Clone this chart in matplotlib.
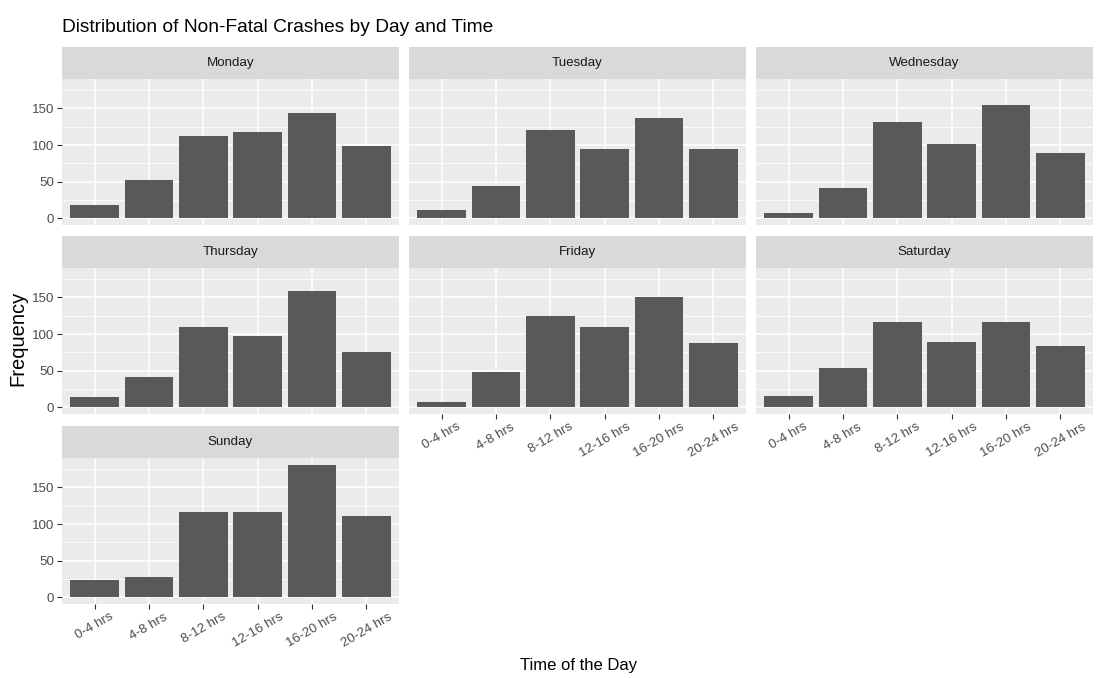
import matplotlib
matplotlib.use('Agg')
import matplotlib.pyplot as plt
from matplotlib.ticker import FixedLocator

plt.rcParams['font.family'] = ['Liberation Sans', 'DejaVu Sans']

days = ['Monday', 'Tuesday', 'Wednesday', 'Thursday', 'Friday', 'Saturday', 'Sunday']
time_slots = ['0-4 hrs', '4-8 hrs', '8-12 hrs', '12-16 hrs', '16-20 hrs', '20-24 hrs']
monday = [18, 52, 113, 118, 144, 99]
tuesday = [12, 44, 121, 95, 137, 95]
wednesday = [7, 41, 132, 102, 155, 89]
thursday = [14, 41, 109, 98, 159, 76]
friday = [7, 48, 125, 109, 150, 88]
saturday = [15, 54, 117, 89, 117, 84]
sunday = [23, 28, 116, 116, 181, 111]
series = [monday, tuesday, wednesday, thursday, friday, saturday, sunday]
y_ticks = [0, 50, 100, 150]
y_minor = [25, 75, 125, 175]

W, H = 1096, 678
fig = plt.figure(figsize=(W / 100, H / 100), dpi=100)
fig.patch.set_facecolor('white')

col_x = [62, 409, 756]
panel_w = 337
row_top = [47, 236, 426]
strip_h = 32
plot_h = 146

ymax = max(max(s) for s in series)
pad = 0.05 * ymax
bottom_of_col = {6, 4, 5}

for i, (day, vals) in enumerate(zip(days, series)):
    r, c = divmod(i, 3)
    x0 = col_x[c]
    top = row_top[r]
    sax = fig.add_axes([x0 / W, 1 - (top + strip_h) / H, panel_w / W, strip_h / H])
    sax.set_facecolor('#D9D9D9')
    sax.set_xticks([]); sax.set_yticks([])
    for sp in sax.spines.values():
        sp.set_visible(False)
    sax.text(0.5, 0.5, day, ha='center', va='center', fontsize=9.6, color='#1A1A1A',
             transform=sax.transAxes)

    ax = fig.add_axes([x0 / W, 1 - (top + strip_h + plot_h) / H, panel_w / W, plot_h / H])
    ax.set_facecolor('#EBEBEB')
    ax.bar(range(len(time_slots)), vals, width=0.9, color='#595959', zorder=3)
    ax.set_xlim(-0.6, len(time_slots) - 0.4)
    ax.set_ylim(-pad, ymax + pad)
    ax.yaxis.set_major_locator(FixedLocator(y_ticks))
    ax.yaxis.set_minor_locator(FixedLocator(y_minor))
    ax.set_xticks(range(len(time_slots)))
    ax.grid(which='major', color='white', lw=1.1, zorder=0)
    ax.grid(which='minor', axis='y', color='white', lw=0.55, zorder=0)
    ax.set_axisbelow(True)
    for sp in ax.spines.values():
        sp.set_visible(False)
    ax.tick_params(which='minor', length=0)
    if c == 0:
        ax.set_yticklabels([str(t) for t in y_ticks])
        ax.tick_params(axis='y', length=3.5, width=0.8, color='#333333',
                       labelsize=9.6, labelcolor='#4D4D4D', pad=2)
    else:
        ax.tick_params(axis='y', length=0, labelleft=False)
    if i in bottom_of_col:
        ax.set_xticklabels(time_slots, rotation=30, ha='center', va='top')
        ax.tick_params(axis='x', length=3.5, width=0.8, color='#333333',
                       labelsize=9.6, labelcolor='#4D4D4D', pad=1.5)
    else:
        ax.tick_params(axis='x', length=0, labelbottom=False)

fig.text(62 / W, 1 - 32 / H, 'Distribution of Non-Fatal Crashes by Day and Time',
         ha='left', va='baseline', fontsize=13.8, color='black')
fig.text(579 / W, 1 - 670 / H, 'Time of the Day', ha='center', va='baseline',
         fontsize=12, color='black')
fig.text(18 / W, 1 - 338 / H, 'Frequency', ha='center', va='center', rotation=90,
         fontsize=14.5, color='black')

fig.savefig('out.png', dpi=100, facecolor='white')
